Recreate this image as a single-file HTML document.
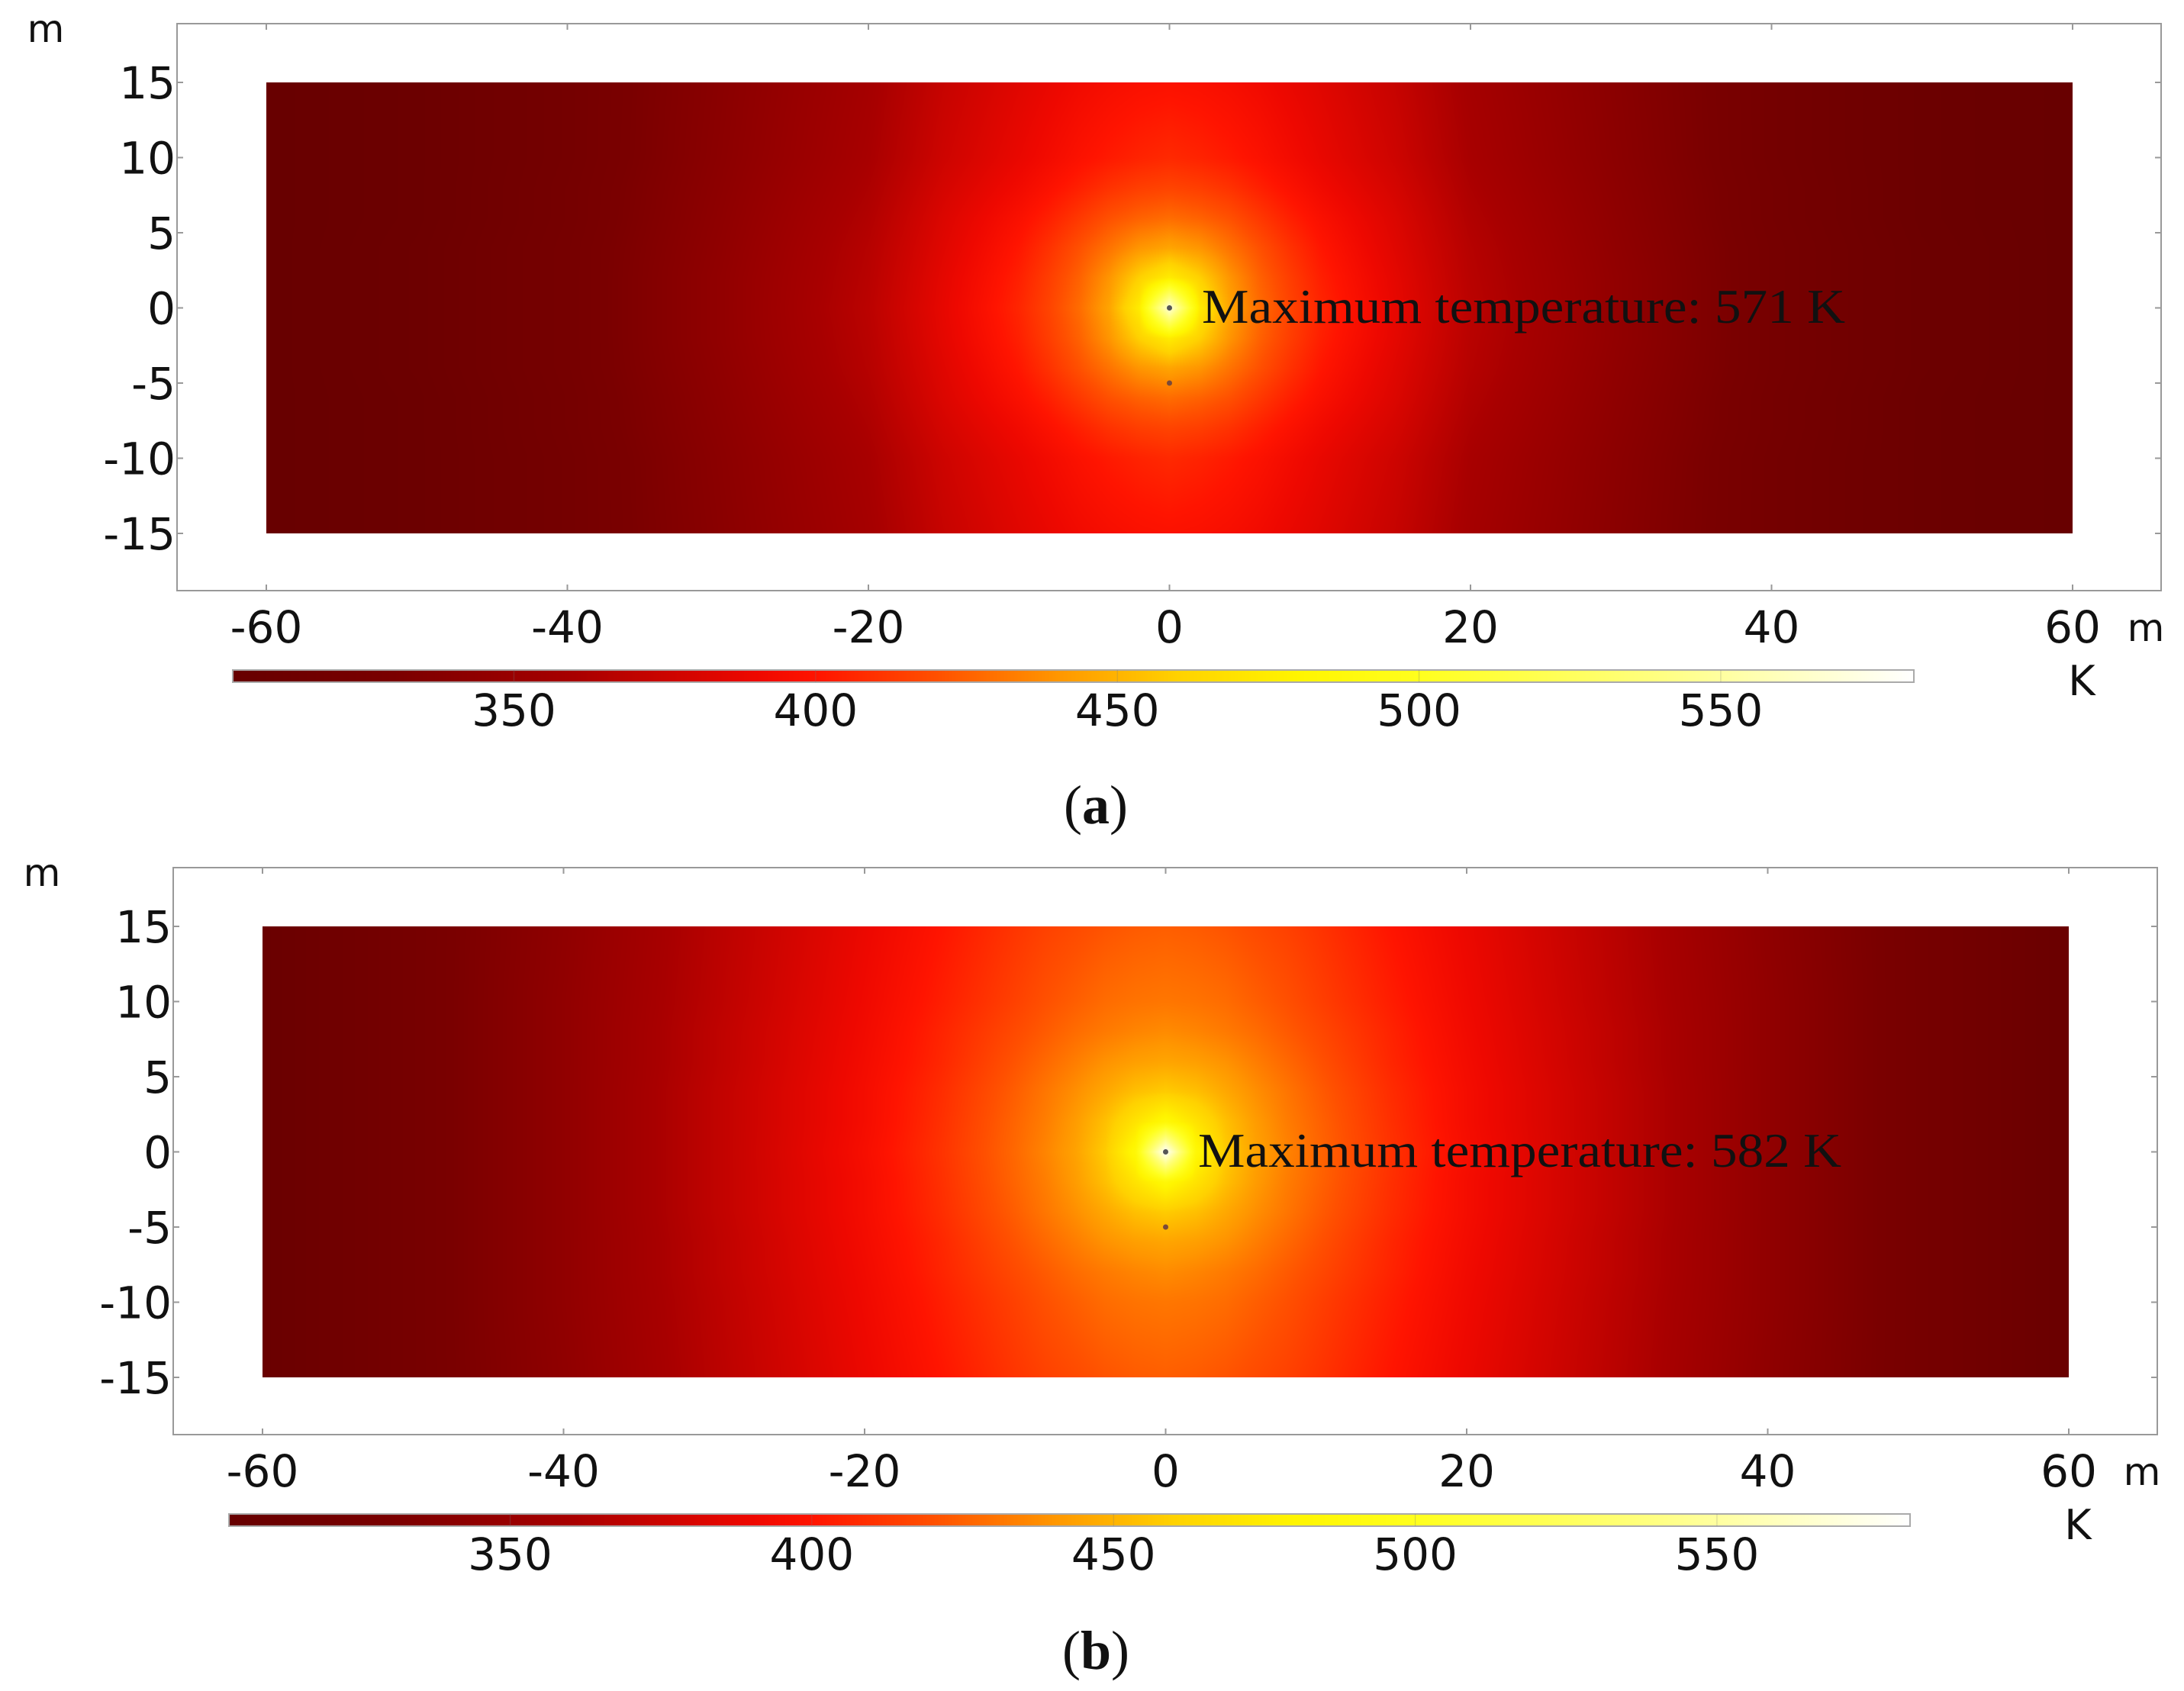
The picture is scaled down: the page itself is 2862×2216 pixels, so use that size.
<!DOCTYPE html>
<html><head><meta charset="utf-8">
<style>
html,body{margin:0;padding:0;background:#fff;}
#wrap{position:relative;width:2862px;height:2216px;overflow:hidden;background:#fff;}
canvas{position:absolute;}
svg{position:absolute;left:0;top:0;}
</style></head>
<body>
<div id="wrap">
<canvas id="fieldA"></canvas>
<canvas id="fieldB"></canvas>
<canvas id="cbarA"></canvas>
<canvas id="cbarB"></canvas>
<svg id="ov" width="2862" height="2216"></svg>
</div>
<script>
// ---- data ----
const xTicks = [-60,-40,-20,0,20,40,60];
const yTicks = [15,10,5,0,-5,-10,-15];
const cbTicks = [350,400,450,500,550];
const cbMin = 303.4, cbMax = 582;
// grid (absolute distance from source, m); field mirrored in x and y
const gridDx = [0,2,4,6,8,10,15,20,30,40,50,60];
const gridDy = [0,2,4,6,8,10,15];
const fieldA = [
 [571,475,445,428,416,406,387,368,345,325,312,305],
 [475,460,440,425,414,404,386,367,345,325,312,305],
 [445,440,430,420,410,401,384,366,344,325,312,305],
 [428,425,420,412,404,397,382,364,343,324,311,305],
 [416,414,410,404,398,392,379,362,342,324,311,305],
 [407,405,402,398,393,388,376,360,341,323,311,305],
 [398,397,395,392,388,384,373,358,340,323,311,305]
];
const fieldB = [
 [582,485,458,444,435,427,410,395,370,345,325,308],
 [485,470,454,442,433,426,409,394,370,345,325,308],
 [458,454,446,438,431,424,408,394,370,345,325,308],
 [445,443,439,433,427,421,406,393,369,345,325,308],
 [437,435,432,428,423,418,405,392,369,345,325,308],
 [431,430,428,424,420,415,403,391,368,345,325,308],
 [424,423,421,418,415,411,400,389,367,344,325,308]
];
const maxA = 571, maxB = 582;
// colormap stops (temperature -> rgb)
const cmapT = [300,330,360,390,400,420,440,460,480,500,540,582];
const cmapC = [[100,0,0],[122,0,0],[168,0,0],[238,8,0],[255,20,0],[255,80,0],[255,150,0],[255,210,0],[255,245,0],[255,255,30],[255,255,130],[255,255,255]];

function color(t){
  if(t<=cmapT[0]) return cmapC[0];
  for(let i=1;i<cmapT.length;i++){
    if(t<=cmapT[i]){const f=(t-cmapT[i-1])/(cmapT[i]-cmapT[i-1]);
      const a=cmapC[i-1],b=cmapC[i];return [a[0]+(b[0]-a[0])*f,a[1]+(b[1]-a[1])*f,a[2]+(b[2]-a[2])*f];}
  }
  return cmapC[cmapC.length-1];
}
function locate(arr,v){
  for(let i=1;i<arr.length;i++){ if(v<=arr[i]) return [i-1,(v-arr[i-1])/(arr[i]-arr[i-1])]; }
  return [arr.length-2,1];
}
function sample(grid,x,y){
  const [i,fx]=locate(gridDx,Math.abs(x)); const [j,fy]=locate(gridDy,Math.abs(y));
  const a=grid[j][i],b=grid[j][i+1],c=grid[j+1][i],d=grid[j+1][i+1];
  return (a*(1-fx)+b*fx)*(1-fy)+(c*(1-fx)+d*fx)*fy;
}
const NS='http://www.w3.org/2000/svg';
const ov=document.getElementById('ov');
function el(tag,attrs,parent){const e=document.createElementNS(NS,tag);for(const k in attrs)e.setAttribute(k,attrs[k]);(parent||ov).appendChild(e);return e;}
const TF='DejaVu Sans, Liberation Sans, sans-serif';
function drawPanel(ox,oy,grid,maxT,label,fieldId,cbId){
  const X0=349+ox, X1=2716+ox, Y15=108+oy, Ym15=699+oy;
  const sx=v=>X0+(v+60)*(X1-X0)/120;
  const sy=v=>Y15+(15-v)*(Ym15-Y15)/30;
  const g=el('g',{});
  
  
  const cv=document.getElementById(fieldId);
  const W=Math.round(X1-X0), H=Math.round(Ym15-Y15);
  cv.width=W;cv.height=H;cv.style.left=X0+'px';cv.style.top=Y15+'px';
  const ctx=cv.getContext('2d');const img=ctx.createImageData(W,H);
  for(let py=0;py<H;py++){const yv=15-(py+0.5)*30/H;
    for(let px=0;px<W;px++){const xv=-60+(px+0.5)*120/W;
      const c=color(sample(grid,xv,yv));const k=(py*W+px)*4;
      img.data[k]=c[0];img.data[k+1]=c[1];img.data[k+2]=c[2];img.data[k+3]=255;}}
  ctx.putImageData(img,0,0);
  const fr=el('rect',{x:232+ox,y:31+oy,width:2600,height:743,fill:'none',stroke:'#999','stroke-width':2},g);
  
  
  xTicks.forEach(v=>{
    el('line',{x1:sx(v),x2:sx(v),y1:31+oy,y2:39+oy,stroke:'#999','stroke-width':2},g);
    el('line',{x1:sx(v),x2:sx(v),y1:774+oy,y2:766+oy,stroke:'#999','stroke-width':2},g);
    const t=el('text',{x:sx(v),y:842+oy,'text-anchor':'middle','font-size':58,'font-family':TF,fill:'#111'},g);
    
    
    t.textContent=v;
  });
  const xm=el('text',{x:2812+ox,y:840+oy,'text-anchor':'middle','font-size':50,'font-family':TF,fill:'#111'},g);
  
  
  xm.textContent='m';
  yTicks.forEach(v=>{
    el('line',{x1:232+ox,x2:240+ox,y1:sy(v),y2:sy(v),stroke:'#999','stroke-width':2},g);
    el('line',{x1:2832+ox,x2:2824+ox,y1:sy(v),y2:sy(v),stroke:'#999','stroke-width':2},g);
    const t=el('text',{x:230+ox,y:sy(v)+21,'text-anchor':'end','font-size':58,'font-family':TF,fill:'#111'},g);
    
    
    t.textContent=v;
  });
  const ym=el('text',{x:60+ox,y:55+oy,'text-anchor':'middle','font-size':50,'font-family':TF,fill:'#111'},g);
  
  
  ym.textContent='m';
  const d1=el('circle',{cx:sx(0),cy:sy(0),r:3.5,fill:'#555'},g);
  
  
  const d2=el('circle',{cx:sx(0),cy:sy(-5),r:3.5,fill:'#7a4a3a'},g);
  
  
  const ann=el('text',{x:1575+ox,y:423+oy,'font-size':64,'font-family':'Liberation Serif, serif',fill:'#111',textLength:843,lengthAdjust:'spacingAndGlyphs'},g);
  
  
  ann.textContent='Maximum temperature: '+maxT+' K';
  const cbL=305+ox, cbR=2508+ox, cbT=878+oy, cbB=894+oy;
  const cx=v=>cbL+(v-cbMin)*(cbR-cbL)/(cbMax-cbMin);
  const cb=document.getElementById(cbId);
  cb.width=Math.round(cbR-cbL);cb.height=cbB-cbT;cb.style.left=cbL+'px';cb.style.top=cbT+'px';
  const c2=cb.getContext('2d');
  for(let px=0;px<cb.width;px++){const c=color(cbMin+(px+0.5)*(cbMax-cbMin)/cb.width);
    c2.fillStyle='rgb('+c.map(Math.round).join(',')+')';c2.fillRect(px,0,1,cb.height);}
  el('rect',{x:cbL,y:cbT,width:cbR-cbL,height:cbB-cbT,fill:'none',stroke:'#aaa','stroke-width':2},g);
  cbTicks.forEach(v=>{
    el('line',{x1:cx(v),x2:cx(v),y1:cbT,y2:cbB,stroke:'rgba(120,120,120,0.35)','stroke-width':1},g);
    const t=el('text',{x:cx(v),y:951+oy,'text-anchor':'middle','font-size':58,'font-family':TF,fill:'#111'},g);
    
    
    t.textContent=v;
  });
  const k=el('text',{x:2728+ox,y:911+oy,'text-anchor':'middle','font-size':54,'font-family':TF,fill:'#111'},g);
  
  
  k.textContent='K';
}
drawPanel(0,0,fieldA,maxA,'a','fieldA','cbarA');
drawPanel(-5,1106,fieldB,maxB,'b','fieldB','cbarB');
[['(a)',1079],['(b)',2187]].forEach(([s,y])=>{
  const t=el('text',{x:1436,y:y,'text-anchor':'middle','font-size':72,'font-family':'Liberation Serif, serif',fill:'#111'});
  
  
  t.innerHTML='(<tspan font-weight="bold">'+s[1]+'</tspan>)';
});
</script>
</body></html>
